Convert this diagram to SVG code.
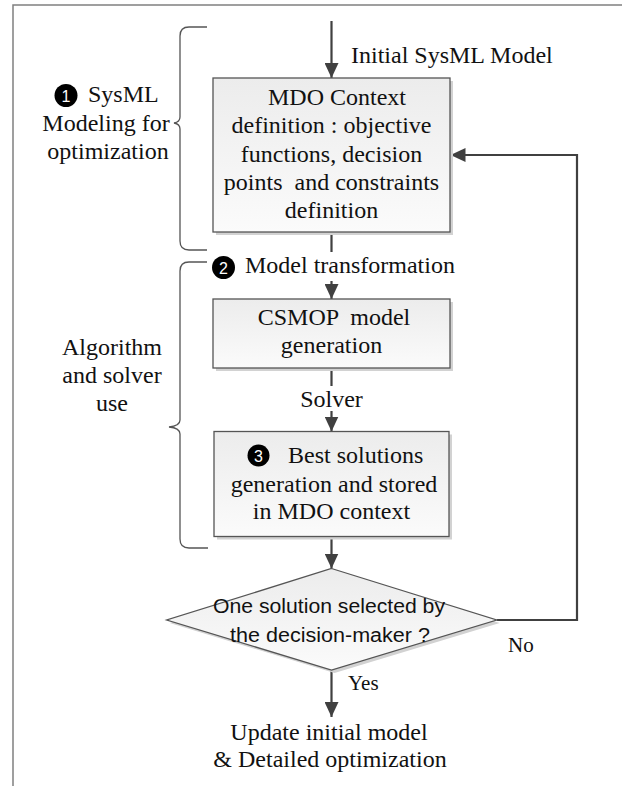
<svg xmlns="http://www.w3.org/2000/svg" width="622" height="786" viewBox="0 0 622 786">
  <style>
    .serif { font-family: "Liberation Serif", "Times New Roman", serif; font-size: 24px; fill: #111; }
    .small { font-family: "Liberation Serif", "Times New Roman", serif; font-size: 21px; fill: #111; }
    .sans { font-family: "Liberation Sans", Arial, sans-serif; font-size: 20px; fill: #111; }
    .num { font-family: "Liberation Sans", Arial, sans-serif; font-size: 16px; fill: #fff; text-anchor: middle; }
    .box { fill: url(#boxFill); stroke: #555; stroke-width: 1.3; }
    .shadow { fill: #d2d2d2; }
    .brace { fill: none; stroke: #555; stroke-width: 1.3; }
    .link { fill: none; stroke: #404040; stroke-width: 2.2; }
    .mid { text-anchor: middle; }
  </style>
  <defs>
    <linearGradient id="boxFill" x1="0" y1="0" x2="0" y2="1">
      <stop offset="0" stop-color="#ececec"/>
      <stop offset="1" stop-color="#fbfbfb"/>
    </linearGradient>
    <marker id="arrow" markerUnits="userSpaceOnUse" markerWidth="16" markerHeight="14" refX="15" refY="7" orient="auto">
      <path d="M0,0 L15,7 L0,14 z" fill="#404040"/>
    </marker>
  </defs>

  <rect width="622" height="786" fill="#fff"/>

  <!-- outer frame (top and left edges) -->
  <path d="M13,786 V5 H622" fill="none" stroke="#808080" stroke-width="1.5"/>

  <!-- phase braces and their labels -->
  <g id="phase1">
    <path class="brace" d="M207,27 H189 Q180,27 180,36 V117 Q180,122 174,123 Q180,124 180,129 V241 Q180,250 189,250 H207"/>
    <circle cx="66" cy="95.5" r="11.5" fill="#000"/>
    <text class="num" x="66" y="101.5">1</text>
    <text class="serif" x="88" y="102">SysML</text>
    <text class="serif mid" x="106" y="131">Modeling for</text>
    <text class="serif mid" x="108" y="159">optimization</text>
  </g>

  <g id="phase2">
    <path class="brace" d="M207,262 H189 Q180,262 180,271 V420 Q180,426 169,427 Q180,428 180,434 V539 Q180,548 189,548 H208"/>
    <text class="serif mid" x="112" y="355">Algorithm</text>
    <text class="serif mid" x="112" y="383">and solver</text>
    <text class="serif mid" x="112" y="411">use</text>
  </g>

  <!-- connectors -->
  <g id="connectors">
    <path class="link" d="M331.5,21 V78" marker-end="url(#arrow)"/>
    <path class="link" d="M331.5,232 V252"/>
    <path class="link" d="M331.5,281 V299" marker-end="url(#arrow)"/>
    <path class="link" d="M331.5,368 V386"/>
    <path class="link" d="M331.5,411 V431.5" marker-end="url(#arrow)"/>
    <path class="link" d="M331.5,537 V568.5" marker-end="url(#arrow)"/>
    <path class="link" d="M331.5,670 V717" marker-end="url(#arrow)"/>
    <path class="link" d="M496.7,620 H577 V155 H450.5" marker-end="url(#arrow)"/>
    <text class="serif" x="351" y="63">Initial SysML Model</text>
    <circle cx="223.5" cy="267.5" r="11.5" fill="#000"/>
    <text class="num" x="223.5" y="273.5">2</text>
    <text class="serif" x="245" y="273">Model transformation</text>
    <text class="serif mid" x="331.5" y="407">Solver</text>
    <text class="small" x="508" y="652">No</text>
    <text class="small" x="348" y="690">Yes</text>
  </g>

  <!-- process steps -->
  <g id="mdo-context">
    <rect class="shadow" x="216" y="81" width="237" height="154"/>
    <rect class="box" x="213" y="78" width="237" height="154"/>
    <text class="serif mid" x="337" y="105">MDO Context</text>
    <text class="serif mid" x="331.5" y="133">definition : objective</text>
    <text class="serif mid" x="331.5" y="161.5">functions, decision</text>
    <text class="serif mid" x="331.5" y="190" xml:space="preserve">points  and constraints</text>
    <text class="serif mid" x="331.5" y="218">definition</text>
  </g>

  <g id="csmop-generation">
    <rect class="shadow" x="216" y="302" width="237" height="69"/>
    <rect class="box" x="213" y="299" width="237" height="69"/>
    <text class="serif mid" x="334" y="325" xml:space="preserve">CSMOP  model</text>
    <text class="serif mid" x="331.5" y="353">generation</text>
  </g>

  <g id="best-solutions">
    <rect class="shadow" x="217" y="434.5" width="235" height="105"/>
    <rect class="box" x="214" y="431.5" width="235" height="105"/>
    <circle cx="258.5" cy="455.5" r="11" fill="#000"/>
    <text class="num" x="258.5" y="461.5">3</text>
    <text class="serif" x="288" y="463">Best solutions</text>
    <text class="serif mid" x="334" y="491.5">generation and stored</text>
    <text class="serif mid" x="331.5" y="519">in MDO context</text>
  </g>

  <g id="decision">
    <polygon class="shadow" points="334.5,571.5 499.7,623 334.5,673 169.7,623"/>
    <polygon class="box" points="331.5,568.5 496.7,620 331.5,670 166.7,620"/>
    <text class="sans mid" x="329" y="613" textLength="232" lengthAdjust="spacingAndGlyphs">One solution selected by</text>
    <text class="sans mid" x="330" y="641.5" textLength="200" lengthAdjust="spacingAndGlyphs">the decision-maker ?</text>
  </g>

  <g id="final-step">
    <text class="serif mid" x="329" y="740">Update initial model</text>
    <text class="serif mid" x="330" y="767">&amp; Detailed optimization</text>
  </g>
</svg>
